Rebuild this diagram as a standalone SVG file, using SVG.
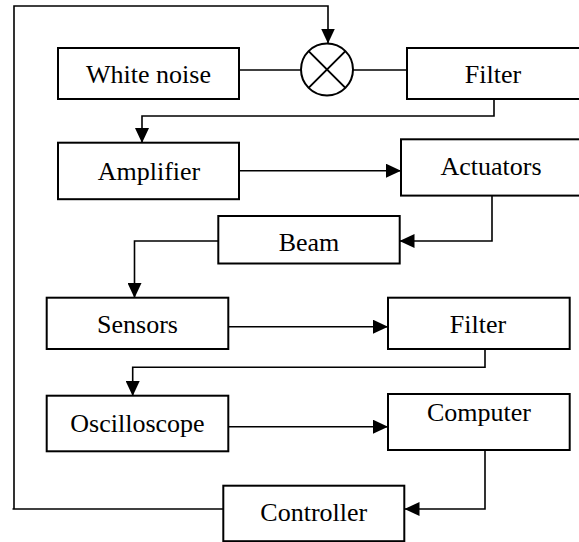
<svg xmlns="http://www.w3.org/2000/svg" width="579" height="542" viewBox="0 0 579 542">
<style>
.box{fill:#fff;stroke:#000;stroke-width:2}
.lbl{font-family:"Liberation Serif","Times New Roman",serif;font-size:26px;fill:#000;text-anchor:middle}
.con{fill:none;stroke:#000;stroke-width:1.6}
.arr{marker-end:url(#ah)}
</style>
<defs>
<marker id="ah" markerUnits="userSpaceOnUse" markerWidth="15" markerHeight="14" refX="15" refY="7" orient="auto">
<path d="M0,0 L15,7 L0,14 z" fill="#000"/>
</marker>
</defs>
<g id="connectors">
<path class="con" d="M239,70 H301"/>
<path class="con" d="M353,70 H407"/>
<path class="con arr" d="M494,99 V116 H142 V143"/>
<path class="con arr" d="M239,170.7 H401"/>
<path class="con arr" d="M492,195.5 V241 H399.5"/>
<path class="con arr" d="M218,241 H134.5 V298"/>
<path class="con arr" d="M228,326.7 H388"/>
<path class="con arr" d="M485,349 V367.3 H132.7 V396"/>
<path class="con arr" d="M228,426.7 H388"/>
<path class="con arr" d="M485,450 V509 H404.5"/>
<path class="con" d="M226,509 H12.5"/>
<path class="con arr" d="M14,509 V6 H328 V43.5"/>
</g>
<g id="white-noise">
<rect class="box" x="58" y="48" width="181" height="51"/>
<text class="lbl" x="148.5" y="82.5">White noise</text>
</g>
<g id="multiplier">
<circle cx="327" cy="69.5" r="26" fill="#fff" stroke="#000" stroke-width="2"/>
<path d="M308.6,51.1 L345.4,87.9 M345.4,51.1 L308.6,87.9" stroke="#000" stroke-width="2" fill="none"/>
</g>
<g id="filter-top">
<rect class="box" x="407" y="48" width="180" height="51"/>
<text class="lbl" x="493" y="82.5">Filter</text>
</g>
<g id="amplifier">
<rect class="box" x="58" y="142.7" width="181" height="56.5"/>
<text class="lbl" x="149" y="179.5">Amplifier</text>
</g>
<g id="actuators">
<rect class="box" x="401" y="139.3" width="186" height="56.3"/>
<text class="lbl" x="491" y="175">Actuators</text>
</g>
<g id="beam">
<rect class="box" x="218.3" y="216" width="181.4" height="47.5"/>
<text class="lbl" x="309" y="251">Beam</text>
</g>
<g id="sensors">
<rect class="box" x="46.7" y="297.7" width="181.6" height="51.3"/>
<text class="lbl" x="137.5" y="333.3">Sensors</text>
</g>
<g id="filter-bottom">
<rect class="box" x="388" y="297.7" width="181.7" height="51.3"/>
<text class="lbl" x="478" y="333.3">Filter</text>
</g>
<g id="oscilloscope">
<rect class="box" x="46.7" y="395.7" width="181.6" height="55.6"/>
<text class="lbl" x="137.5" y="431.7">Oscilloscope</text>
</g>
<g id="computer">
<rect class="box" x="388" y="394" width="181.7" height="56"/>
<text class="lbl" x="479" y="420.6">Computer</text>
</g>
<g id="controller">
<rect class="box" x="223.3" y="485.7" width="181" height="55.5"/>
<text class="lbl" x="313.8" y="520.6">Controller</text>
</g>
</svg>
